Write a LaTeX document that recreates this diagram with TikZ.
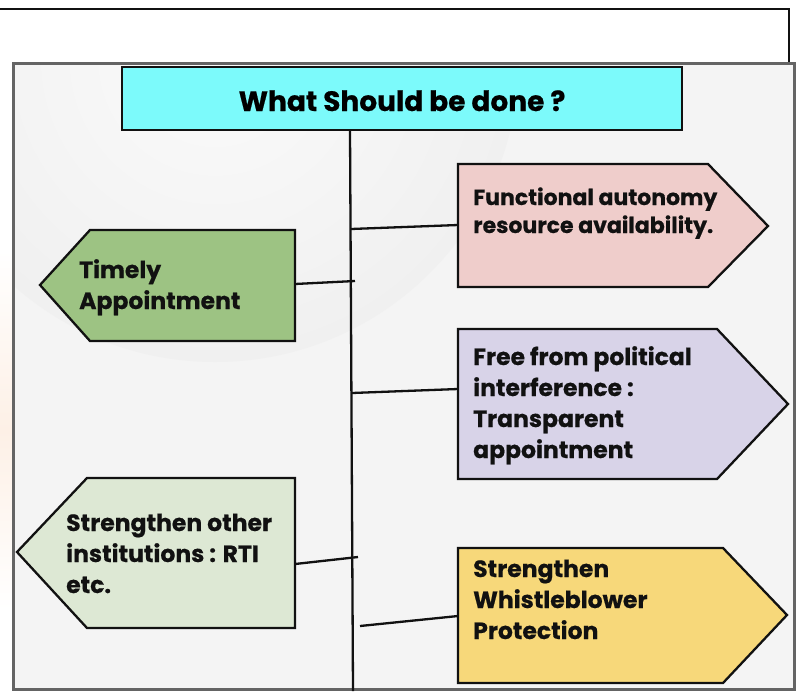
\documentclass[tikz,border=0pt]{standalone}
\usepackage{fontspec}
\setmainfont{Poppins}[BoldFeatures={FakeBold=0.6}]
\usetikzlibrary{calc}
\definecolor{ink}      {HTML}{111111}
\definecolor{panel}    {HTML}{F4F4F4}
\definecolor{panelRim} {HTML}{646464}
\definecolor{haze}     {HTML}{DCDCDC}
\definecolor{mist}     {HTML}{EDEDED}
\definecolor{peach}    {HTML}{FDF0E6}
\definecolor{titleCyan}{HTML}{7CFAFB}
\definecolor{sage}     {HTML}{9DC383}
\definecolor{sageLt}   {HTML}{DDE8D4}
\definecolor{blush}    {HTML}{EFCDCB}
\definecolor{lilac}    {HTML}{D8D3E8}
\definecolor{butter}   {HTML}{F7D87A}
\pgfdeclareradialshading{bubble}{\pgfpoint{0bp}{0bp}}{%
  color(0bp)=(panel!40!white); color(32bp)=(mist); color(44bp)=(haze); color(50bp)=(haze)}

\begin{document}
\begin{tikzpicture}[x=1pt, y=-1pt,
    tagline/.style={draw=ink, line width=2.3pt, line join=miter},
    tagtext/.style={anchor=base west, align=left, inner sep=0pt, text=ink,
                    font=\bfseries\fontsize{23.5}{31}\selectfont},
    titlebox/.style={draw=ink, line width=2pt, fill=titleCyan, minimum width=560pt,
                     minimum height=63pt, inner sep=0pt, text height=25pt, text depth=0pt,
                     font=\bfseries\fontsize{28}{32}\selectfont},
    link/.style={draw=ink, line width=2.3pt}]
  \useasboundingbox (0,0) rectangle (797,691);
  \fill[white] (0,0) rectangle (797,691);
  % frame behind the panel
  \draw[ink, line width=2pt] (-5,9) -- (789,9) -- (789,64);
  \shade[top color=white, bottom color=white, middle color=peach] (0,250) rectangle (13,610);
  % panel with the soft bubble
  \fill[panel] (13,63) rectangle (794,689);
  \begin{scope}
    \clip (13,63) rectangle (794,689);
    \shade[shading=bubble] (215,58) circle (304);
  \end{scope}
  \draw[panelRim, line width=3pt] (13,63) rectangle (794,689);

  % heading and trunk
  \node[titlebox] (title) at (402,98.5) {What Should be done ?};
  \coordinate (trunk-top) at (350,130);
  \coordinate (trunk-bottom) at (353,691);
  \draw[link] (trunk-top) -- (trunk-bottom);

  % left tags
  \draw[tagline, fill=sage]   (295,230) -- (90,230) -- (40,285) -- (90,341) -- (295,341) -- cycle;
  \draw[tagline, fill=sageLt] (295,478) -- (87,478) -- (17,552) -- (87,628) -- (295,628) -- cycle;
  % right tags
  \draw[tagline, fill=blush]  (458,164) -- (708,164) -- (768,226) -- (708,287) -- (458,287) -- cycle;
  \draw[tagline, fill=lilac]  (458,329) -- (717,329) -- (788,404) -- (717,479) -- (458,479) -- cycle;
  \draw[tagline, fill=butter] (458,548) -- (723,548) -- (787,615) -- (723,683) -- (458,683) -- cycle;

  % labels, placed on the baseline of their last line
  \node[tagtext] (timely) at (79,309) {Timely\\Appointment};
  \node[tagtext] (others) at (66,593) {Strengthen other\\institutions : RTI\\etc.};
  \node[tagtext, font=\bfseries\fontsize{22}{28}\selectfont] (autonomy) at (473,233)
       {Functional autonomy\\resource availability.};
  \node[tagtext] (political) at (473,458) {Free from political\\interference :\\Transparent\\appointment};
  \node[tagtext] (whistle) at (473,639) {Strengthen\\Whistleblower\\Protection};

  % connectors
  \coordinate (timely-out)    at (295,284);
  \coordinate (timely-in)     at (355,281);
  \coordinate (autonomy-out)  at (351,229);
  \coordinate (autonomy-in)   at (458,225);
  \coordinate (political-out) at (352,393);
  \coordinate (political-in)  at (458,389);
  \coordinate (others-out)    at (295,564);
  \coordinate (others-in)     at (358,557);
  \coordinate (whistle-out)   at (360,626);
  \coordinate (whistle-in)    at (458,616);
  \draw[link] (timely-out) -- (timely-in);
  \draw[link] (autonomy-out) -- (autonomy-in);
  \draw[link] (political-out) -- (political-in);
  \draw[link] (others-out) -- (others-in);
  \draw[link] (whistle-out) -- (whistle-in);
\end{tikzpicture}
\end{document}
